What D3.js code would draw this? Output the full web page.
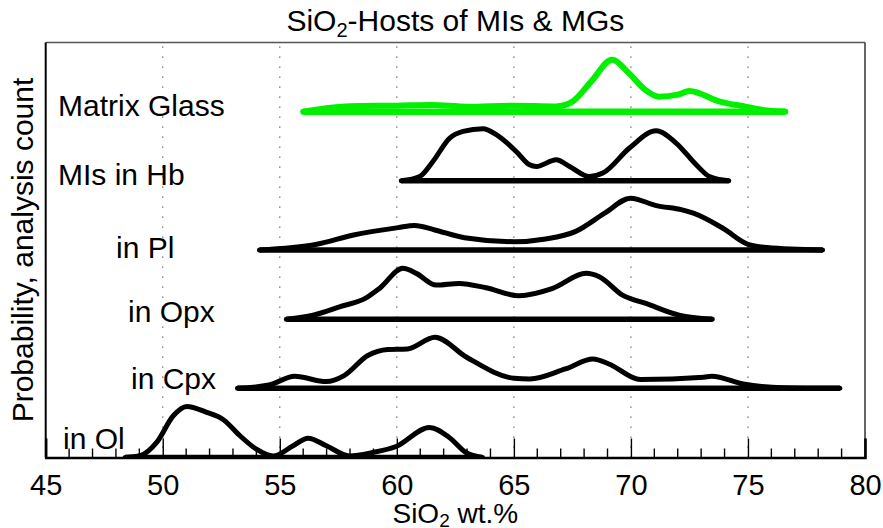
<!DOCTYPE html>
<html>
<head>
<meta charset="utf-8">
<script src="https://cdn.jsdelivr.net/npm/d3@7"></script>
<style>
  body { margin: 0; background: #fff; }
  svg { display: block; }
  text { font-family: "Liberation Sans", Arial, Helvetica, sans-serif; fill: #000; }
</style>
</head>
<body>
<svg id="chart" width="883" height="528"></svg>
<script>
// Host groups, bottom row first
const groups = ["in Ol", "in Cpx", "in Opx", "in Pl", "MIs in Hb", "Matrix Glass"];

// Probability curves (SiO2 wt.% and relative probability) for each group
const olSiO2  = [48.39, 49.03, 49.74, 50.45, 51.02, 51.88, 52.59, 53.30, 54.00, 54.72, 55.57, 56.21, 56.99, 57.98, 58.98, 59.97, 61.39, 62.24, 62.95, 63.66];
const olProb  = [0, 1.7, 15, 41.7, 51, 45, 37.7, 21.7, 8.3, 1.5, 11.7, 19.3, 11.7, 1.5, 5, 11, 30, 20, 5, 0];

const cpxSiO2 = [53.19, 54.54, 55.64, 56.99, 57.75, 58.76, 59.61, 60.45, 61.63, 62.98, 65.01, 65.68, 67.20, 68.38, 69.06, 70.41, 73.11, 73.45, 74.80, 76.48, 78.93];
const cpxProb = [0, 3.3, 12, 6.7, 12.7, 32.7, 38.7, 39.3, 51, 31, 10, 9.3, 19.3, 29.3, 24.3, 8.7, 11, 12, 4.3, 0.7, 0];

const opxSiO2 = [55.28, 56.42, 57.55, 58.69, 59.26, 60.26, 60.83, 61.68, 62.67, 63.81, 65.23, 66.66, 68.08, 68.65, 69.64, 70.64, 72.06, 73.48];
const opxProb = [0, 4, 12.3, 21.3, 30.7, 50.7, 45.7, 34, 35.7, 31.3, 23.3, 30.7, 45.7, 42.3, 24, 15.7, 4, 0];

const plSiO2  = [54.13, 56.58, 58.15, 60.05, 60.76, 61.62, 62.89, 65.02, 66.36, 67.62, 68.88, 69.98, 71.09, 72.19, 72.67, 73.93, 75.00, 75.82, 78.19];
const plProb  = [0, 5.7, 15, 22.3, 24.5, 20, 12.3, 8.3, 11, 18.3, 36.7, 51.7, 44.3, 40, 36.7, 21.7, 5.7, 2.5, 0];

const hbSiO2  = [60.19, 60.98, 61.54, 62.26, 62.83, 63.68, 64.25, 65.10, 65.67, 65.96, 66.81, 67.38, 68.23, 68.80, 69.94, 71.08, 71.93, 72.79, 73.35, 74.18];
const hbProb  = [0, 4.3, 19.3, 42.7, 49.3, 52, 46, 29.3, 16, 14.3, 21, 14.3, 4.3, 7.7, 32.7, 50, 37.7, 16, 4.3, 0];

const mgSiO2  = [56.0, 58.0, 60.0, 61.5, 63.0, 65.0, 66.8, 67.5, 68.3, 69.2, 69.9, 70.6, 71.2, 72.0, 72.5, 73.8, 74.9, 75.8, 76.6];
const mgProb  = [0, 5.5, 6, 6.7, 5, 6, 5.2, 10, 30, 51.7, 38.7, 22, 15, 17, 20.7, 10, 5, 1.2, 0];

const xTicks = [45, 50, 55, 60, 65, 70, 75, 80];

const curves = [
  { name: groups[0], x: olSiO2,  p: olProb,  color: "#000" },
  { name: groups[1], x: cpxSiO2, p: cpxProb, color: "#000" },
  { name: groups[2], x: opxSiO2, p: opxProb, color: "#000" },
  { name: groups[3], x: plSiO2,  p: plProb,  color: "#000" },
  { name: groups[4], x: hbSiO2,  p: hbProb,  color: "#000" },
  { name: groups[5], x: mgSiO2,  p: mgProb,  color: "#00f000" }
];

// Label placement for each row
const labelPos = [
  { x: 63,  dy: -9 },
  { x: 131, dy: 1 },
  { x: 128, dy: 3 },
  { x: 116, dy: 8 },
  { x: 58,  dy: 4 },
  { x: 58,  dy: 4.5 }
];

const svg = d3.select("#chart");
const L = 45.7, R = 865, T = 42.5, B = 457.5;

const x = d3.scaleLinear().domain([45, 80]).range([L, R]);
const y = d3.scaleLinear().domain([0, 6]).range([B, T]);
const probPerRow = 69; // probability value equal to one row spacing

svg.append("defs").append("clipPath").attr("id", "plotClip")
  .append("rect").attr("x", L).attr("y", T).attr("width", R - L).attr("height", B - T);

// dotted vertical grid
svg.append("g").selectAll("line")
  .data(xTicks.filter(d => d > 45 && d < 80))
  .join("line")
  .attr("x1", d => x(d)).attr("x2", d => x(d))
  .attr("y1", T + 4).attr("y2", B)
  .attr("stroke", "#555")
  .attr("stroke-width", 1.2)
  .attr("stroke-dasharray", "1.2,8.8");

// rows
const plot = svg.append("g").attr("clip-path", "url(#plotClip)");
const line = d3.line().curve(d3.curveMonotoneX);

curves.forEach((c, i) => {
  const pts = c.x.map((v, k) => [x(v), y(i + c.p[k] / probPerRow)]);
  const w = i === 5 ? 6 : 5;
  plot.append("line")
    .attr("x1", x(c.x[0])).attr("x2", x(c.x[c.x.length - 1]))
    .attr("y1", y(i)).attr("y2", y(i))
    .attr("stroke", c.color).attr("stroke-width", w + 0.5);
  plot.append("path")
    .attr("d", line(pts))
    .attr("fill", "none")
    .attr("stroke", c.color)
    .attr("stroke-width", w)
    .attr("stroke-linejoin", "round")
    .attr("stroke-linecap", "round");
});

// row labels
svg.append("g").selectAll("text")
  .data(curves)
  .join("text")
  .attr("x", (d, i) => labelPos[i].x)
  .attr("y", (d, i) => y(i) + labelPos[i].dy)
  .attr("font-size", 30)
  .text(d => d.name);

// frame
svg.append("line").attr("x1", L).attr("x2", R).attr("y1", T).attr("y2", T)
  .attr("stroke", "#555").attr("stroke-width", 1.3);
svg.append("line").attr("x1", R).attr("x2", R).attr("y1", T).attr("y2", B)
  .attr("stroke", "#333").attr("stroke-width", 1.5);
svg.append("line").attr("x1", L).attr("x2", L).attr("y1", T).attr("y2", B)
  .attr("stroke", "#000").attr("stroke-width", 2);

// bottom axis with major and minor ticks pointing inward
const axisG = svg.append("g").attr("transform", `translate(0,${B})`);
const minor = d3.range(46, 80).filter(v => v % 5 !== 0);
axisG.selectAll("line.minor").data(minor).join("line")
  .attr("class", "minor")
  .attr("x1", d => x(d)).attr("x2", d => x(d))
  .attr("y1", 0).attr("y2", -9)
  .attr("stroke", "#000").attr("stroke-width", 1.4);
const axis = d3.axisBottom(x).tickValues(xTicks).tickSize(-19).tickPadding(17).tickFormat(d3.format("d"));
axisG.call(axis);
axisG.select(".domain").attr("stroke", "#000").attr("stroke-width", 2.5);
axisG.selectAll(".tick line").attr("stroke", "#000").attr("stroke-width", 1.4);
axisG.selectAll(".tick text")
  .attr("font-size", 29)
  .attr("font-family", "'Liberation Sans', Arial, Helvetica, sans-serif")
  .attr("fill", "#000");

// title
const title = svg.append("text")
  .attr("x", (L + R) / 2).attr("y", 31)
  .attr("text-anchor", "middle")
  .attr("font-size", 30);
title.append("tspan").text("SiO");
title.append("tspan").attr("font-size", 20).attr("dy", 6).text("2");
title.append("tspan").attr("dy", -6).text("-Hosts of MIs & MGs");

// x-axis label
const xl = svg.append("text")
  .attr("x", (L + R) / 2).attr("y", 523)
  .attr("text-anchor", "middle")
  .attr("font-size", 28);
xl.append("tspan").text("SiO");
xl.append("tspan").attr("font-size", 19).attr("dy", 4).text("2");
xl.append("tspan").attr("dy", -4).text(" wt.%");

// y-axis label
svg.append("text")
  .attr("transform", `translate(33,${(T + B) / 2}) rotate(-90)`)
  .attr("text-anchor", "middle")
  .attr("font-size", 30)
  .text("Probability, analysis count");
</script>
</body>
</html>
